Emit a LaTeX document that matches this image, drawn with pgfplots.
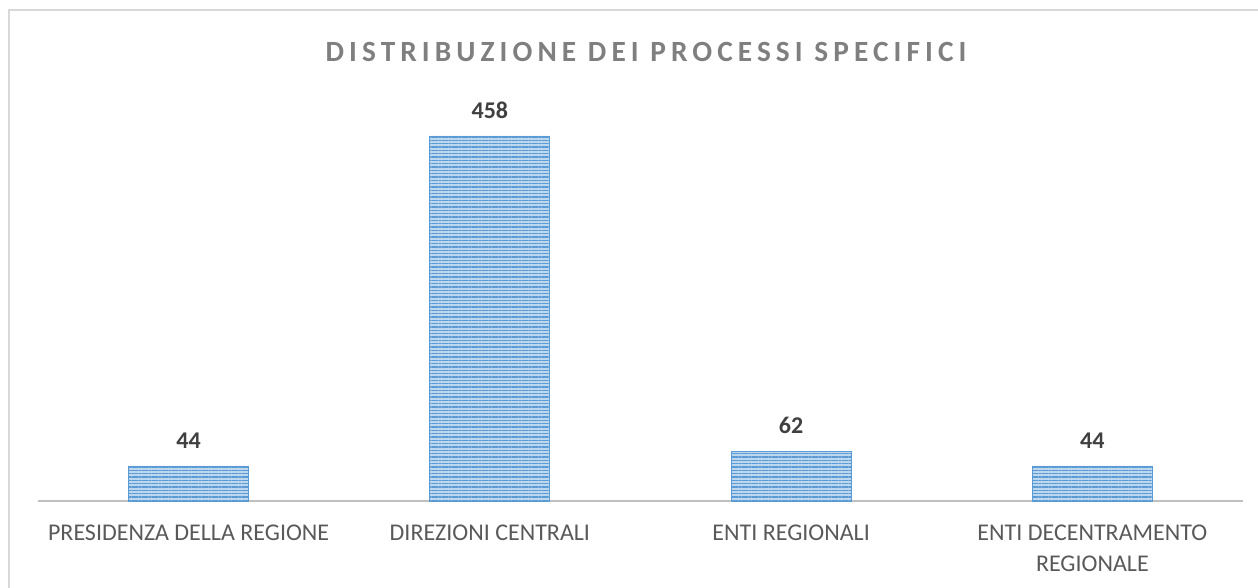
\documentclass[border=0pt]{standalone}
\usepackage{fontspec}
\setmainfont{Carlito}
\usepackage{pgfplots}
\pgfplotsset{compat=1.18}
\usetikzlibrary{patterns.meta}
\definecolor{barfill}{HTML}{BDD7EE}
\definecolor{barline}{HTML}{5B9BD5}
\definecolor{axisgray}{HTML}{BFBFBF}
\definecolor{framegray}{HTML}{D9D9D9}
\definecolor{titlegray}{HTML}{7F7F7F}
\definecolor{labelgray}{HTML}{595959}
\definecolor{valgray}{HTML}{404040}
\begin{document}
\begin{tikzpicture}
\useasboundingbox (-28.5pt,-64.5pt) rectangle (915pt,375.75pt);
\draw[framegray, line width=1.5pt] (-21.75pt,-80pt) -- (-21.75pt,368.6pt) -- (930pt,368.6pt);
\node[font=\fontsize{22}{26}\selectfont\bfseries\addfontfeature{LetterSpace=17.3}, text=titlegray] at (456pt,336.75pt) {DISTRIBUZIONE DEI PROCESSI SPECIFICI};
\begin{axis}[
  at={(0pt,0pt)}, anchor=south west,
  scale only axis,
  width=903.75pt, height=298.9pt,
  xmin=-0.5, xmax=3.5, ymin=0, ymax=500,
  axis x line*=bottom, axis y line=none,
  x axis line style={axisgray, line width=2.2pt, -},
  xtick={0,1,2,3}, major tick length=0pt,
  xticklabels={PRESIDENZA DELLA REGIONE, DIREZIONI CENTRALI, ENTI REGIONALI, {ENTI DECENTRAMENTO\\REGIONALE}},
  xticklabel style={font=\fontsize{18}{23.25}\selectfont, text=labelgray, align=center, inner sep=0pt, yshift=-17.5pt},
  ytick=\empty,
  clip=false,
  /pgf/number format/assume math mode=true,
  nodes near coords,
  every node near coord/.append style={font=\fontsize{18}{21}\selectfont\bfseries, text=valgray, inner sep=0pt, yshift=13pt},
]
\addplot[ybar, bar width=90pt, fill=barfill, draw=barline, line width=0.6pt,
  postaction={pattern={Lines[angle=0, distance=2.5pt, line width=1.2pt]}, pattern color=barline}]
  coordinates {(0,44) (1,458) (2,62) (3,44)};
\end{axis}
\end{tikzpicture}
\end{document}
